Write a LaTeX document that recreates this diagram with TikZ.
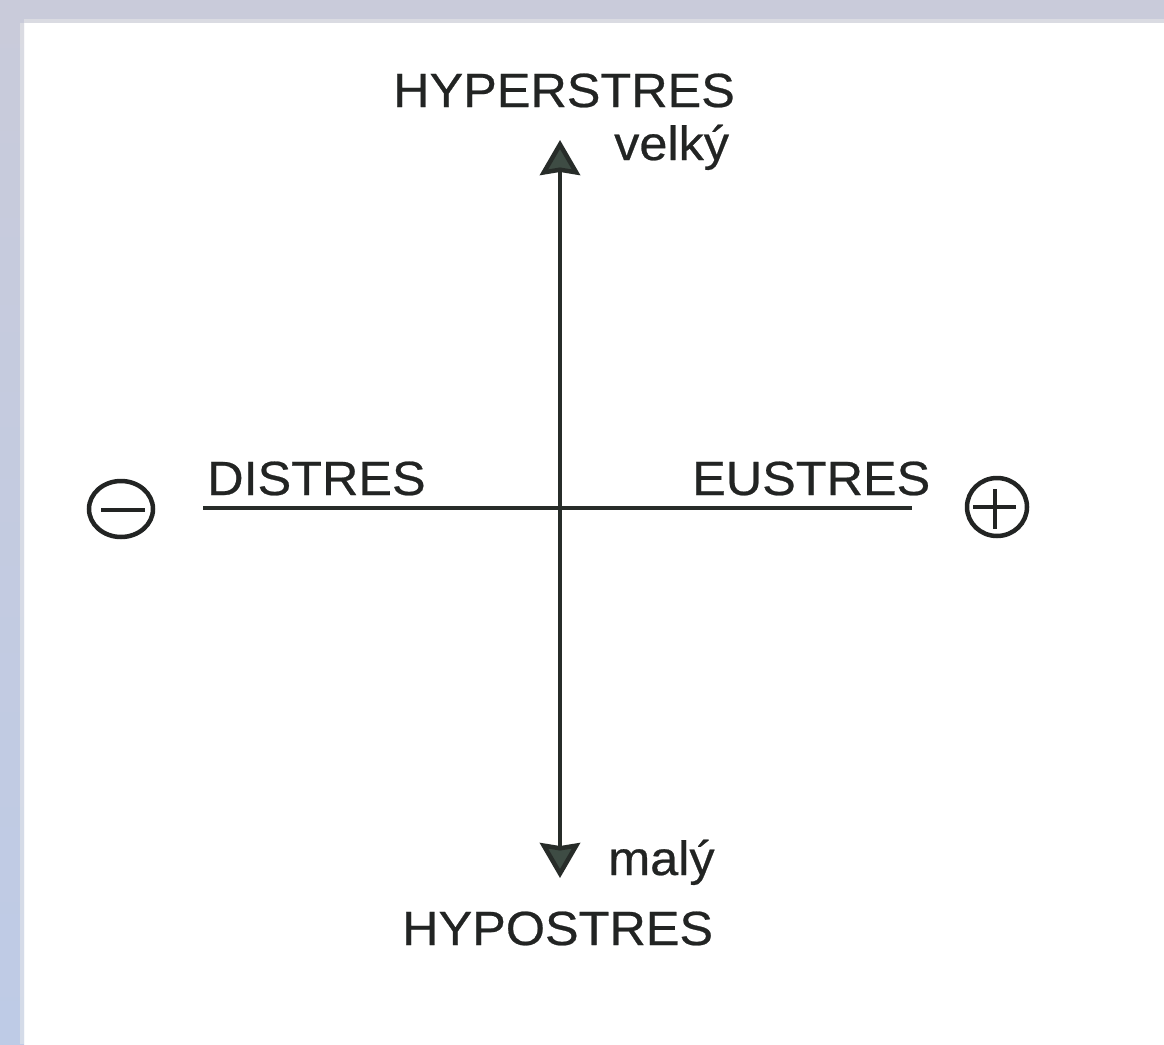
\documentclass[tikz,border=0pt]{standalone}
\usepackage{fontspec}
\setmainfont{Liberation Sans}[FakeBold=0.5]
\usetikzlibrary{arrows.meta}
\definecolor{inkc}{HTML}{222423}
\definecolor{linec}{HTML}{272C29}
\definecolor{headc}{HTML}{3E4C44}
\definecolor{framet}{HTML}{C9CBDA}
\definecolor{framel}{HTML}{BECBE6}
\newcommand\widetxt[1]{\scalebox{1.05}[1]{#1}}
\tikzset{
  lbl/.style={anchor=base west, inner sep=0pt, text=inkc, font=\fontsize{48}{58}\selectfont},
  axisline/.style={draw=linec, line width=4pt},
  axisarrow/.style={draw=linec, line width=4.5pt, {Stealth[length=35pt,width=40pt,inset=3pt,fill=headc]}-{Stealth[length=35pt,width=40pt,inset=3pt,fill=headc]}},
  sign/.style={draw=inkc, line width=4.5pt}
}
\begin{document}
\begin{tikzpicture}[x=1pt,y=-1pt]
\useasboundingbox (0,0) rectangle (1164,1044);
\fill[white] (0,0) rectangle (1164,1044);
\shade[top color=framet, bottom color=framel] (0,0) rectangle (24,1044);
\fill[framet] (0,0) rectangle (1164,23);
\fill[black!8, opacity=0.5] (20,23) rectangle (24,1044);
\fill[black!8, opacity=0.5] (24,19) rectangle (1164,23);

% axes
\coordinate (top) at (560,140);
\coordinate (bot) at (560,878);
\coordinate (left) at (203,508);
\coordinate (right) at (912,508);
\draw[axisarrow] (bot) -- (top);
\draw[axisline] (left) -- (right);

% labels
\node[lbl] (hyper) at (393,107) {\widetxt{HYPERSTRES}};
\node[lbl] (velky) at (614,160) {\widetxt{velký}};
\node[lbl] (dis) at (207,495) {\widetxt{DISTRES}};
\node[lbl] (eu) at (692,495) {\widetxt{EUSTRES}};
\node[lbl] (maly) at (608,875) {\widetxt{malý}};
\node[lbl] (hypo) at (402,945) {\widetxt{HYPOSTRES}};

% signs
\coordinate (minusc) at (121,509);
\draw[sign] (minusc) ellipse [x radius=32, y radius=28];
\draw[sign] (101,510) -- (145,510);
\coordinate (plusc) at (997,507);
\draw[sign] (plusc) ellipse [x radius=30, y radius=29];
\draw[sign] (973,507) -- (1016,507);
\draw[sign] (995,489) -- (995,529);
\end{tikzpicture}
\end{document}
